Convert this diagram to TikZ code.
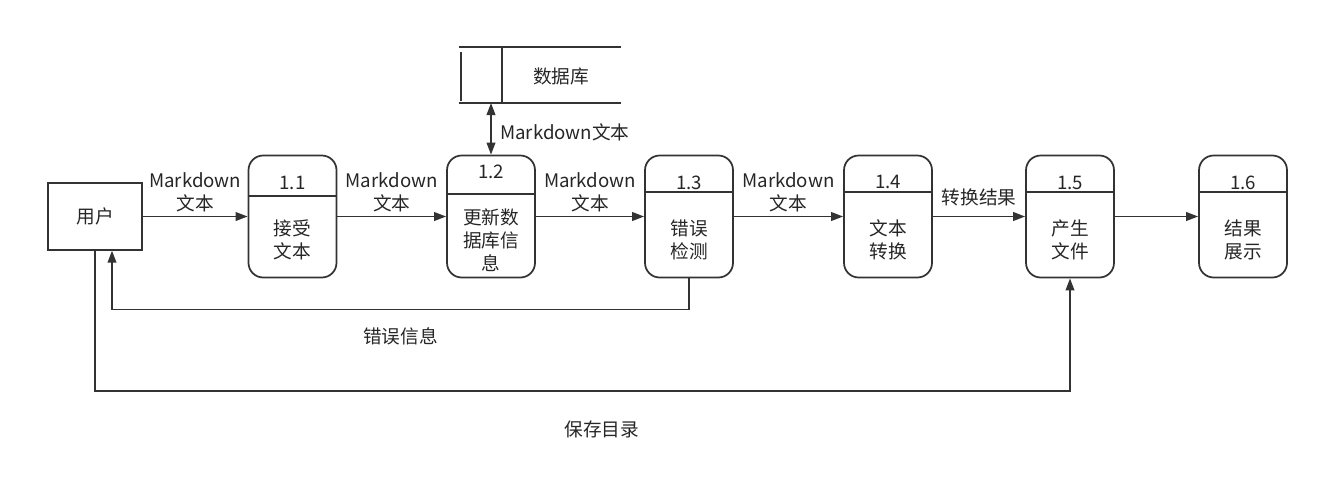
\documentclass[tikz,border=0pt]{standalone}
\usepackage{fontspec}
\setmainfont{Noto Sans CJK SC}
\usetikzlibrary{arrows.meta}

\begin{document}
\begin{tikzpicture}[
    x=0.75pt,y=-0.75pt,
    >={Triangle[length=9pt,width=6.5pt]},
    line width=1.3pt,
    every node/.style={font=\fontsize{14}{17.3}\selectfont,text=black!85,inner sep=1pt},
    flow/.style={->,draw=black!80},
    proc/.style={draw=black!80,rounded corners=11pt,minimum width=66pt,minimum height=91.5pt},
    entity/.style={draw=black!80,minimum width=70.5pt,minimum height=50pt},
    store/.style={draw=black!80}
    ]
\useasboundingbox (0,0) rectangle (1319,476);

% EXTERNAL ENTITY
\node[entity] (user) at (95,216.5) {用户};

% PROCESSES
\foreach \n/\x/\dy/\ny/\num/\txt in {
    1/292.5/196/183/1.1/{接受\\文本},
    2/491/194/172/1.2/{更新数\\据库信\\息},
    3/689/192/183/1.3/{错误\\检测},
    4/888/192/182/1.4/{文本\\转换},
    5/1070/192/183/1.5/{产生\\文件},
    6/1243/192/183/1.6/{结果\\展示}}{
  \node[proc] (p\n) at (\x,216.5) {};
  \draw[black!80] (p\n.west |- 0,\dy) -- (p\n.east |- 0,\dy);
  \node (n\n) at (\x,\ny) {\num};
  \node[align=center] (t\n) at (\x,240) {\txt};
}

% DATA STORE
\node (db) at (561,76) {数据库};
\draw[store] (459,47) -- (621,47);
\draw[store] (459,103) -- (621,103);
\draw[store] (502,47) -- (502,103);
\draw[store] (461,52) -- (461,101);
\coordinate (dbb) at (491,103);

% FLOWS
\draw[<->,draw=black!80] (dbb) -- (p2.north);
\node[anchor=west] (dblab) at (498,132) {Markdown文本};
\draw[flow] (user) -- (p1) node[midway,above=2pt,align=center] {Markdown\\文本};
\draw[flow] (p1) -- (p2) node[midway,above=2pt,align=center] {Markdown\\文本};
\draw[flow] (p2) -- (p3) node[midway,above=2pt,align=center] {Markdown\\文本};
\draw[flow] (p3) -- (p4) node[midway,above=2pt,align=center] {Markdown\\文本};
\draw[flow] (p4) -- (p5) node[midway,above=6pt] {转换结果};
\draw[flow] (p5) -- (p6);

% FEEDBACK
\draw[flow] (p3.south) -- ++(0,31) -| (user.south -| 112,0)
    node[pos=0.25,below=12pt] {错误信息};
\draw[flow] (user.south) -- ++(0,140) -| (p5.south)
    node[pos=0.26,below=21pt] {保存目录};
\end{tikzpicture}
\end{document}
